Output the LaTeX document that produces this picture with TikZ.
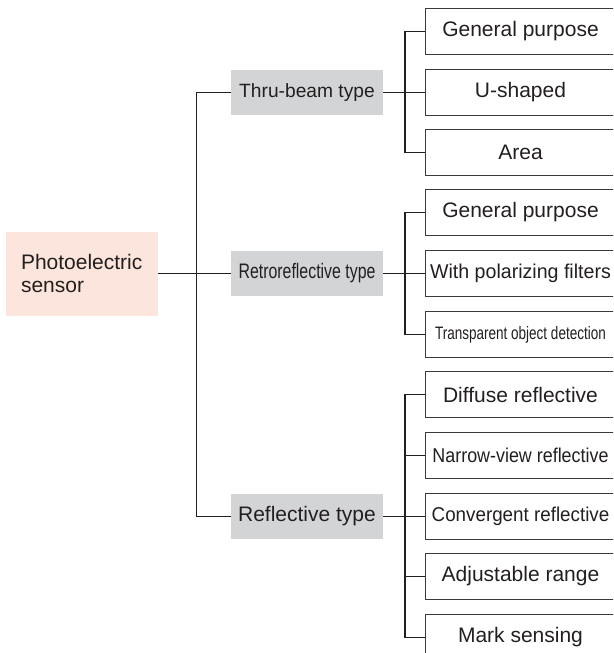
\documentclass[tikz,border=0pt]{standalone}
\usepackage{fontspec}
\setmainfont{Liberation Sans}
\usepackage{graphicx}
\definecolor{txt}{HTML}{231F20}
\definecolor{midgray}{HTML}{D3D4D6}
\definecolor{rootpink}{HTML}{FCE5DC}
\definecolor{edge}{HTML}{3A3A3A}
\newcommand{\fs}[1]{\fontsize{#1}{#1}\selectfont}
\begin{document}
\begin{tikzpicture}[x=1pt,y=-1pt,
  every node/.style={text=txt, inner sep=0pt, font=\fs{21}},
  leaf/.style={draw=edge, line width=1pt, minimum width=190pt, minimum height=46pt, anchor=center},
  mid/.style={fill=midgray, minimum width=152pt, minimum height=45pt},
  root/.style={fill=rootpink, minimum width=152pt, minimum height=84pt, align=left, text width=122pt, inner xsep=15pt},
  conn/.style={draw=txt, line width=1.2pt}]
\useasboundingbox (0,0) rectangle (613,653);
\clip (0,0) rectangle (613,653);
% root
\node[root, execute at begin node={\baselineskip=23.5pt}] (root) at (82,273.5) {Photoelectric\\sensor};
% middle
\node[mid, font=\fs{19.2}] (thru) at (307,92.5) {Thru-beam type};
\node[mid] (retro) at (307,273.5) {\scalebox{0.757}[1]{Retroreflective type}};
\node[mid] (refl) at (307,516.5) {Reflective type};
% leaves
\node[leaf] (t1) at (520.5,31.5) {General purpose};
\node[leaf] (t2) at (520.5,92.5) {U-shaped};
\node[leaf] (t3) at (520.5,152.5) {Area};
\node[leaf] (r1) at (520.5,212.5) {General purpose};
\node[leaf, font=\fs{20}] (r2) at (520.5,273.5) {\scalebox{0.98}[1]{With polarizing filters}};
\node[leaf, font=\fs{18}] (r3) at (520.5,334.5) {\scalebox{0.75}[1]{Transparent object detection}};
\node[leaf] (f1) at (520.5,394.5) {Diffuse reflective};
\node[leaf, font=\fs{20}] (f2) at (520.5,455.5) {\scalebox{0.895}[1]{Narrow-view reflective}};
\node[leaf, font=\fs{20}] (f3) at (520.5,516.5) {\scalebox{0.94}[1]{Convergent reflective}};
\node[leaf] (f4) at (520.5,576.5) {Adjustable range};
\node[leaf] (f5) at (520.5,637.5) {Mark sensing};
% connectors root -> middle
\coordinate (jr) at (196.5,273.5);
\draw[conn] (root.east) -- (retro.west);
\draw[conn] (thru.west) -| (jr) |- (refl.west);
% brackets
\draw[conn] (thru.east) -- (t2.west);
\draw[conn] (t1.west) -- ++(-20,0) |- (t3.west);
\draw[conn] (retro.east) -- (r2.west);
\draw[conn] (r1.west) -- ++(-20,0) |- (r3.west);
\draw[conn] (refl.east) -- (f3.west);
\draw[conn] (f1.west) -- ++(-20,0) |- (f5.west);
\draw[conn] (f2.west) -- ++(-20,0);
\draw[conn] (f4.west) -- ++(-20,0);
\end{tikzpicture}
\end{document}
